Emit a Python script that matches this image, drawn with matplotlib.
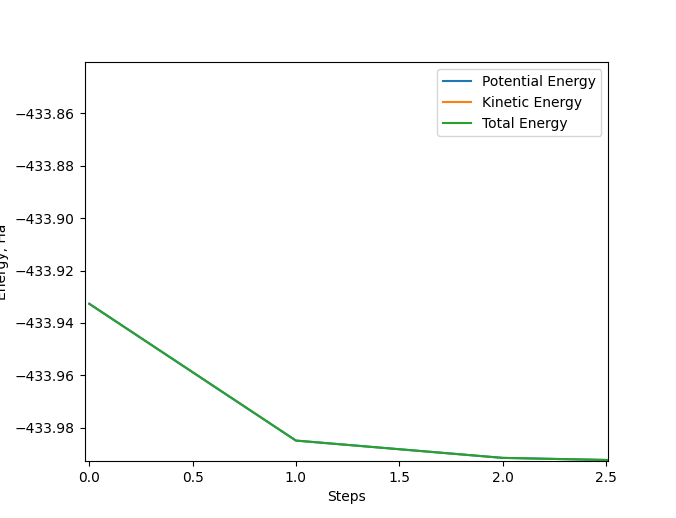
import matplotlib
matplotlib.use("Agg")
import matplotlib.pyplot as plt

steps = [0, 1, 2, 3]
potential = [-433.9327, -433.9849, -433.9915, -433.9931]
kinetic = [0.0, 0.0, 0.0, 0.0]
total = [p + k for p, k in zip(potential, kinetic)]

fig = plt.figure(figsize=(6.76, 5.18), dpi=100)
ax = fig.add_subplot(111)
ax.plot(steps, potential, label="Potential Energy")
ax.plot(steps, kinetic, label="Kinetic Energy")
ax.plot(steps, total, label="Total Energy")
ax.set_xlim(-0.023, 2.512)
ax.set_ylim(-433.9927, -433.8405)
ax.set_xlabel("Steps")
ax.set_ylabel("Energy, Ha")
ax.legend(loc="upper right")
fig.savefig("out.png", dpi=100)
